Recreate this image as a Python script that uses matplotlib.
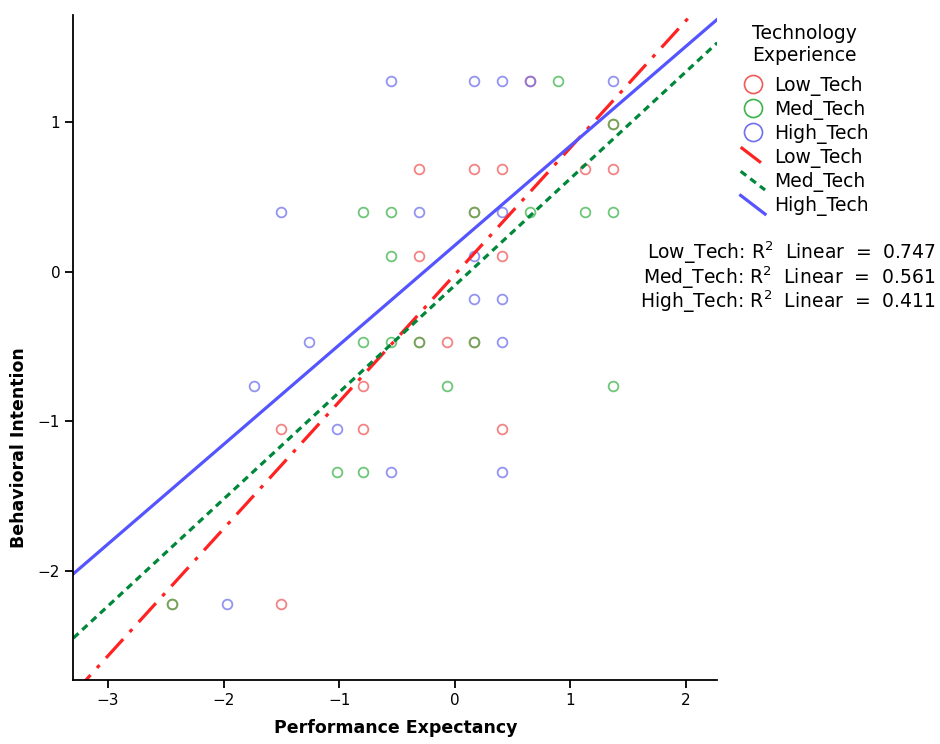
import matplotlib
matplotlib.use("Agg")
import matplotlib.pyplot as plt
from matplotlib.lines import Line2D
from matplotlib.legend_handler import HandlerBase
import numpy as np

# standardized scores
low_x = [0.65, 1.37, -0.31, 0.17, 0.41, 1.13, 1.37, 0.17, -0.31, 0.41,
         -0.31, -0.07, 0.17, -0.79, -1.50, -0.79, 0.41, -2.45, -1.50]
low_y = [1.28, 0.99, 0.69, 0.69, 0.69, 0.69, 0.69, 0.40, 0.11, 0.11,
         -0.47, -0.47, -0.47, -0.76, -1.05, -1.05, -1.05, -2.22, -2.22]

med_x = [0.89, 1.37, -0.79, -0.55, 0.17, 0.65, 1.13, 1.37, -0.55,
         -0.79, -0.55, -0.31, 0.17, -0.07, 1.37, -1.02, -0.79, -2.45]
med_y = [1.28, 0.99, 0.40, 0.40, 0.40, 0.40, 0.40, 0.40, 0.11,
         -0.47, -0.47, -0.47, -0.47, -0.76, -0.76, -1.34, -1.34, -2.22]

high_x = [-0.55, 0.17, 0.41, 0.65, 1.37, -1.50, -0.31, 0.41, 0.17, 0.17, 0.41,
          -1.26, 0.41, -1.74, -1.02, -0.55, 0.41, -1.97]
high_y = [1.28, 1.28, 1.28, 1.28, 1.28, 0.40, 0.40, 0.40, 0.11, -0.18, -0.18,
          -0.47, -0.47, -0.76, -1.05, -1.34, -1.34, -2.22]

# fit lines (slope, intercept) and R squared as shown
groups = ["Low_Tech", "Med_Tech", "High_Tech"]
slopes = [0.85, 0.715, 0.666]
intercepts = [-0.018, -0.09, 0.178]
r2 = [0.747, 0.561, 0.411]

pt_colors = ["#f05a5a", "#3cb44b", "#6f6ff0"]
ln_colors = ["#ff2222", "#00873a", "#5555ff"]
ln_dash = [(8, 3, 1.2, 3), (2.2, 1.6), None]

fig = plt.figure(figsize=(9.4, 7.44), dpi=100)
ax = fig.add_axes([0.078, 0.086, 0.685, 0.894])

xs_all = [low_x, med_x, high_x]
ys_all = [low_y, med_y, high_y]
for i in range(3):
    ax.plot(xs_all[i], ys_all[i], "o", ms=7, mfc="none", mec=pt_colors[i],
            mew=1.3, alpha=0.75, ls="none")

xlim = (-3.3, 2.27)
ylim = (-2.73, 1.72)
xx = np.array(xlim)
for i in range(3):
    l, = ax.plot(xx, slopes[i] * xx + intercepts[i], color=ln_colors[i], lw=2.3)
    if ln_dash[i] is not None:
        l.set_dashes(ln_dash[i])

ax.set_xlim(xlim)
ax.set_ylim(ylim)
ax.set_xticks([-3, -2, -1, 0, 1, 2])
ax.set_yticks([-2, -1, 0, 1])
ax.spines["top"].set_visible(False)
ax.spines["right"].set_visible(False)
ax.spines["left"].set_linewidth(1.3)
ax.spines["bottom"].set_linewidth(1.3)
ax.tick_params(direction="out", length=6, width=1.3, labelsize=11)
ax.set_xlabel("Performance Expectancy", fontsize=12.5, fontweight="bold", labelpad=8)
ax.set_ylabel("Behavioral Intention", fontsize=12.5, fontweight="bold")
ax.yaxis.set_label_coords(-0.071, 0.35)


class DiagHandler(HandlerBase):
    def create_artists(self, legend, orig_handle, xdescent, ydescent, width,
                       height, fontsize, trans):
        ln = Line2D([0, width], [height + 2, -2], color=orig_handle.get_color(),
                    lw=orig_handle.get_linewidth())
        if orig_handle.dashes is not None:
            ln.set_dashes(orig_handle.dashes)
        ln.set_transform(trans)
        return [ln]


class DashLine(Line2D):
    dashes = None


handles = []
for i in range(3):
    handles.append(Line2D([], [], marker="o", ls="none", ms=13, mfc="none",
                          mec=pt_colors[i], mew=1.2))
diag = []
for i in range(3):
    h = DashLine([], [], color=ln_colors[i], lw=2.3)
    h.dashes = ln_dash[i]
    handles.append(h)
    diag.append(h)

leg = fig.legend(handles, groups + groups, title="Technology\nExperience",
                 loc="upper left", bbox_to_anchor=(0.77, 0.991), frameon=False,
                 fontsize=13.5, title_fontsize=13.5, handlelength=1.3,
                 handletextpad=0.5, labelspacing=0.22,
                 handler_map={h: DiagHandler() for h in diag})
leg._legend_box.sep = 8

r2_lines = ["%s: R$^2$  Linear  =  %.3f" % (groups[i], r2[i]) for i in range(3)]
fig.text(0.995, 0.627, "\n".join(r2_lines), ha="right", va="center",
         multialignment="right", fontsize=13.5, linespacing=0.9)

fig.savefig("out.png", dpi=100)
